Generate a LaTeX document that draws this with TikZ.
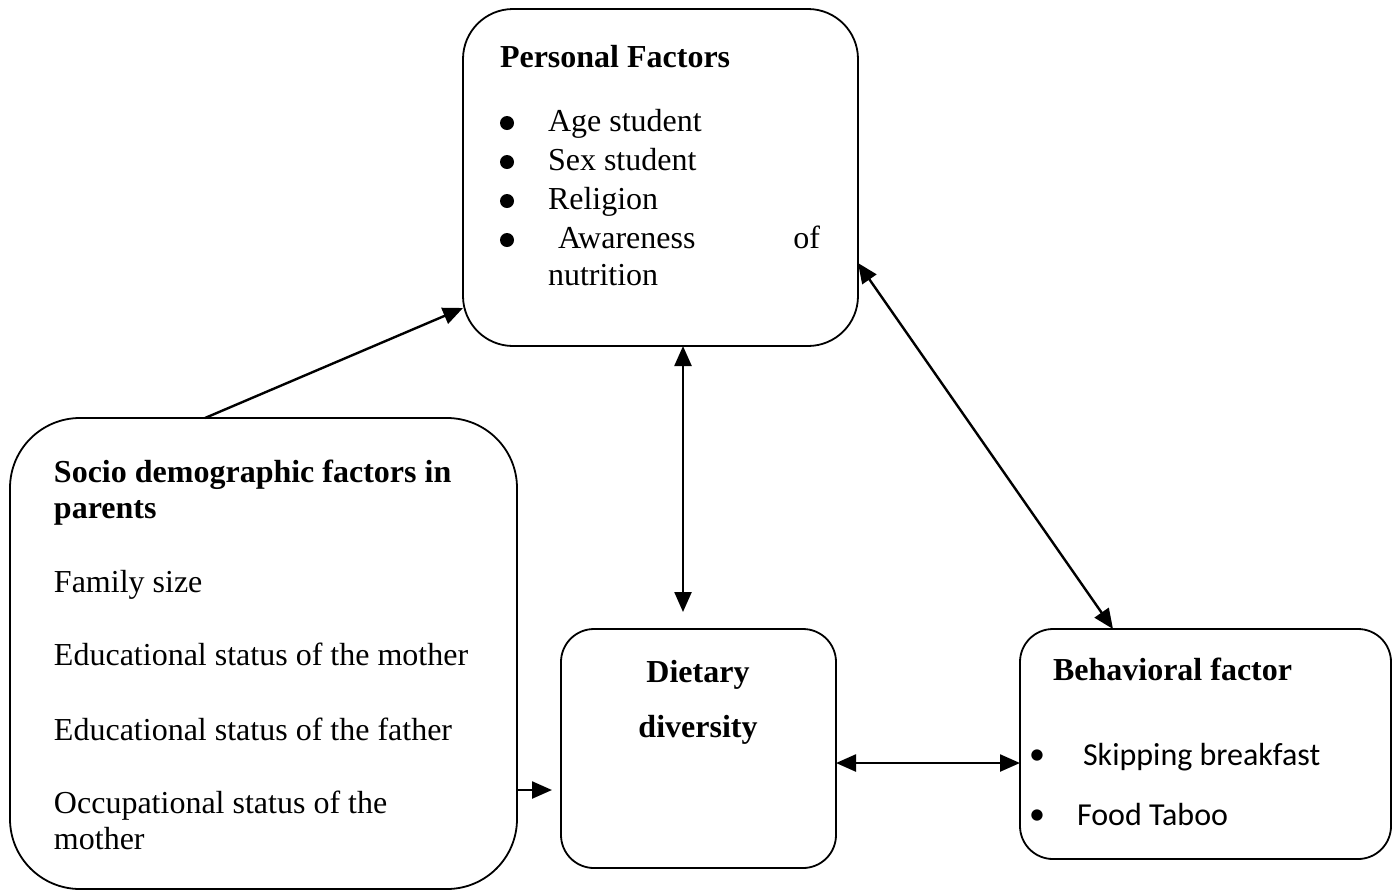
\documentclass[tikz,border=0pt]{standalone}
\usepackage{fontspec}
\setmainfont{Liberation Serif}
\newfontfamily\calib{Carlito}
\usetikzlibrary{arrows.meta}
\begin{document}
\begin{tikzpicture}[x=0.5pt,y=-0.5pt,
  box/.style={draw, line width=0.9pt, inner sep=0pt, outer sep=0pt},
  txt/.style={inner sep=0pt, outer sep=0pt, anchor=base west, font=\fontsize{16pt}{19pt}\selectfont},
  btxt/.style={txt, font=\fontsize{16pt}{19pt}\selectfont\bfseries},
  ctxt/.style={txt, font=\fontsize{16pt}{19pt}\selectfont\calib},
  bul/.style={circle, fill=black, inner sep=0pt, outer sep=0pt, minimum size=7pt},
  cbul/.style={inner sep=0pt, outer sep=0pt, anchor=center, font=\fontsize{16pt}{19pt}\selectfont\calib},
  link/.style={line width=1.2pt, -{Triangle[length=10pt,width=8.5pt]}},
  dlink/.style={line width=1.2pt, {Triangle[length=10pt,width=8.5pt]}-{Triangle[length=10pt,width=8.5pt]}}
]
\useasboundingbox (0,0) rectangle (1398,890);

% boxes
\node[box, rounded corners=25pt, minimum width=197.5pt, minimum height=168.5pt] (personal) at (660.5,177.5) {};
\node[box, rounded corners=35pt, minimum width=253.5pt, minimum height=235.5pt] (socio) at (263.5,653.5) {};
\node[box, rounded corners=16.5pt, minimum width=137.5pt, minimum height=119.5pt] (diet) at (698.5,748.5) {};
\node[box, rounded corners=16.5pt, minimum width=185.5pt, minimum height=115pt] (behav) at (1205.5,744) {};

% personal factors text
\node[btxt] (pt) at (500,67) {Personal Factors};
\node[bul] (pb1) at (507,123) {};
\node[bul] (pb2) at (507,162) {};
\node[bul] (pb3) at (507,201) {};
\node[bul] (pb4) at (507,240) {};
\node[txt] (p1) at (548,131) {Age student};
\node[txt] (p2) at (548,170) {Sex student};
\node[txt] (p3) at (548,209) {Religion};
\node[txt] (p4) at (558,248) {Awareness};
\node[txt, anchor=base east] (p4b) at (820,248) {of};
\node[txt] (p5) at (548,285) {nutrition};

% socio demographic text
\node[btxt] (st1) at (54,482) {Socio demographic factors in};
\node[btxt] (st2) at (54,518) {parents};
\node[txt] (s1) at (54,592) {Family size};
\node[txt] (s2) at (54,665) {Educational status of the mother};
\node[txt] (s3) at (54,740) {Educational status of the father};
\node[txt] (s4) at (54,813) {Occupational status of the};
\node[txt] (s5) at (54,849) {mother};

% dietary diversity
\node[btxt, anchor=base] (d1) at (698,682) {Dietary};
\node[btxt, anchor=base] (d2) at (698,737) {diversity};

% behavioral factor
\node[btxt] (bt) at (1053,680) {Behavioral factor};
\node[cbul] (bb1) at (1037,757) {\textbullet};
\node[cbul] (bb2) at (1037,817) {\textbullet};
\node[ctxt] (b1) at (1083,765) {Skipping breakfast};
\node[ctxt] (b2) at (1077,825) {Food Taboo};

% connectors
\draw[link] ([xshift=-29.25pt]socio.north) -- ([yshift=-65.25pt]personal.west);
\draw[dlink, shorten >=8.5pt] ([xshift=11.25pt]personal.south) -- ([xshift=-7.75pt]diet.north);
\draw[dlink] ([yshift=-42.75pt]personal.east) -- ([xshift=-46.25pt]behav.north);
\draw[dlink] ([yshift=-7.25pt]diet.east) -- ([yshift=-7.25pt]diet.east -| behav.west);
\draw[link, shorten >=4.5pt] ([yshift=-68.25pt]socio.east) -- ([yshift=-68.25pt]socio.east -| diet.west);
\end{tikzpicture}
\end{document}
